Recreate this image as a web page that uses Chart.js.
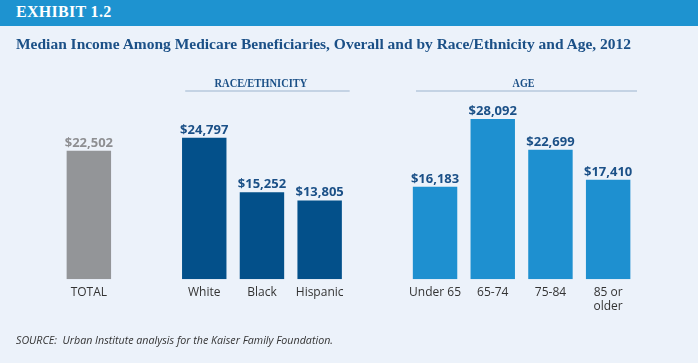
<!DOCTYPE html>
<html><head><meta charset="utf-8">
<script src="https://cdn.jsdelivr.net/npm/chart.js@4.4.0/dist/chart.umd.min.js"></script>
<style>
html,body{margin:0;padding:0;background:#ecf2fa;}
#wrap{position:relative;width:698px;height:363px;overflow:hidden;background:#ecf2fa;}
#band{position:absolute;left:0;top:0;width:698px;height:26px;background:#1e93d0;}
#exh{position:absolute;left:16px;top:3px;color:#fff;font:bold 16px "Liberation Serif",serif;letter-spacing:0.3px;white-space:nowrap;}
#title{position:absolute;left:16px;top:36px;color:#1b5087;font:bold 15px "Liberation Serif",serif;white-space:nowrap;transform-origin:0 0;}
#src{position:absolute;left:16px;top:332px;color:#333;font:italic 11px "Open Sans",sans-serif;white-space:nowrap;transform-origin:0 0;}
canvas{position:absolute;left:0;top:0;}
</style></head>
<body><div id="wrap">
<canvas id="c" width="698" height="363"></canvas>
<div id="band"></div>
<div id="exh">EXHIBIT 1.2</div>
<div id="title">Median Income Among Medicare Beneficiaries, Overall and by Race/Ethnicity and Age, 2012</div>
<div id="src">SOURCE:&nbsp; Urban Institute analysis for the Kaiser Family Foundation.</div>
</div>
<script>
const categories = ["TOTAL", "", "White", "Black", "Hispanic", "", "Under 65", "65-74", "75-84", ["85 or", "older"]];
const values = [22502, null, 24797, 15252, 13805, null, 16183, 28092, 22699, 17410];
const groupLabels = ["RACE/ETHNICITY", "AGE"];
const barColors = ["#939598", null, "#03508a", "#03508a", "#03508a", null, "#1e90d0", "#1e90d0", "#1e90d0", "#1e90d0"];
const labelColors = ["#8e8f92", null, "#1b5087", "#1b5087", "#1b5087", null, "#1b5087", "#1b5087", "#1b5087", "#1b5087"];

function fit(id, w){const el=document.getElementById(id);const r=el.getBoundingClientRect().width;el.style.transform='scaleX('+(w/r)+')';}
fit('title', 615);
fit('src', 317);

const decor = {
  id: 'decor',
  afterDatasetsDraw(chart){
    const ctx = chart.ctx, x = chart.scales.x, meta = chart.getDatasetMeta(0);
    ctx.save();
    ctx.textAlign = 'center'; ctx.textBaseline = 'alphabetic';
    ctx.font = 'bold 13px "Open Sans", sans-serif';
    meta.data.forEach((bar, i) => {
      if (values[i] == null) return;
      ctx.fillStyle = labelColors[i];
      ctx.fillText('$' + values[i].toLocaleString('en-US'), bar.x, bar.y - 4);
    });
    const slot = x.getPixelForValue(1) - x.getPixelForValue(0);
    const groups = [[2, 4], [6, 9]];
    const widths = [93, 22];
    groups.forEach((g, k) => {
      const x0 = x.getPixelForValue(g[0]) - 0.33 * slot;
      const x1 = x.getPixelForValue(g[1]) + (k === 0 ? 0.52 * slot : 0.5 * slot);
      ctx.strokeStyle = '#b7c9dc'; ctx.lineWidth = 1.5;
      ctx.beginPath(); ctx.moveTo(x0, 91); ctx.lineTo(x1, 91); ctx.stroke();
      ctx.fillStyle = '#1b5087';
      ctx.font = 'bold 13px "Liberation Serif", serif';
      const cx = (x.getPixelForValue(g[0]) + x.getPixelForValue(g[1])) / 2 + (k === 0 ? -1 : 2);
      const mw = ctx.measureText(groupLabels[k]).width;
      const s = widths[k] / mw;
      ctx.save();
      ctx.translate(cx, 86.5);
      ctx.scale(s, 1);
      ctx.fillText(groupLabels[k], 0, 0);
      ctx.restore();
    });
    ctx.restore();
  }
};

new Chart(document.getElementById('c'), {
  type: 'bar',
  data: { labels: categories, datasets: [{ data: values, backgroundColor: barColors, barPercentage: 0.77, categoryPercentage: 1 }] },
  options: {
    responsive: false, animation: false,
    layout: { padding: { left: 60, right: 61, top: 108, bottom: 43 } },
    plugins: { legend: { display: false }, tooltip: { enabled: false } },
    scales: {
      x: { grid: { display: false, drawTicks: false }, border: { display: false },
           ticks: { color: '#333', padding: 6, font: { family: '"Open Sans", sans-serif', size: 12 }, maxRotation: 0, autoSkip: false } },
      y: { display: false, min: 0, max: 30000 }
    }
  },
  plugins: [decor]
});
</script>
</body></html>
